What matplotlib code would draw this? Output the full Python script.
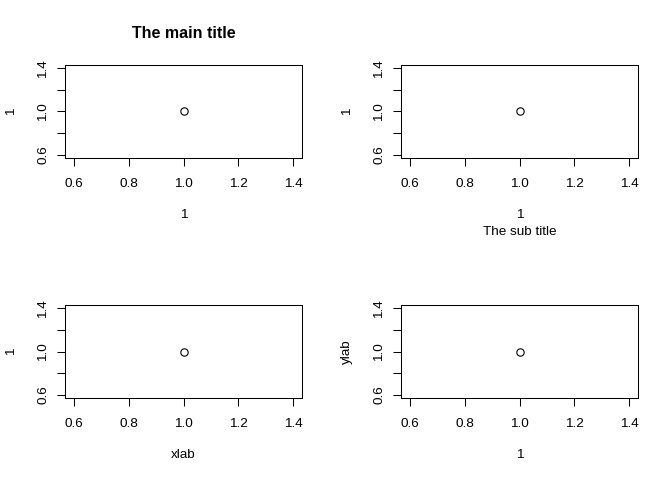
import matplotlib
matplotlib.use('Agg')
import matplotlib.pyplot as plt

plt.rcParams['font.family'] = ['Liberation Sans', 'DejaVu Sans']

# data: one point per panel, as in plot(1, 1, ...)
x_vals = [1]
y_vals = [1]
tick_vals = [0.6, 0.8, 1.0, 1.2, 1.4]
x_tick_labels = ['0.6', '0.8', '1.0', '1.2', '1.4']
y_tick_labels = ['0.6', '', '1.0', '', '1.4']  # R drops the crowded ones
main_titles = ['The main title', '', '', '']
sub_titles = ['', 'The sub title', '', '']
x_labels = ['1', '1', 'xlab', '1']
y_labels = ['1', '1', '1', 'ylab']

W, H = 672, 480
fig = plt.figure(figsize=(W / 100, H / 100), dpi=100)

FS = 9.7        # ~13 px
FS_MAIN = 11.5  # bold title
lefts = [65, 401]
tops = [65, 305]
pw, ph = 237, 93

for i in range(4):
    r, c = divmod(i, 2)
    l, t = lefts[c], tops[r]
    ax = fig.add_axes([l / W, 1 - (t + ph) / H, pw / W, ph / H])
    ax.plot(x_vals, y_vals, 'o', mfc='white', mec='black', ms=5.3, mew=0.8)
    ax.set_xlim(0.568, 1.432)
    ax.set_ylim(0.568, 1.432)
    ax.set_xticks(tick_vals)
    ax.set_xticklabels(x_tick_labels)
    ax.set_yticks(tick_vals)
    ax.set_yticklabels(y_tick_labels, rotation=90, va='center')
    ax.tick_params(direction='out', length=5.5, width=0.75, labelsize=FS)
    ax.tick_params(axis='x', pad=9)
    ax.tick_params(axis='y', pad=6)
    for s in ax.spines.values():
        s.set_linewidth(0.75)

    # outer labels, placed in pixels from the box edges like R's mtext lines
    ax.annotate(x_labels[i], (0.5, 0), xycoords='axes fraction',
                xytext=(0, -57), textcoords='offset pixels',
                ha='center', va='center', fontsize=FS)
    ax.annotate(y_labels[i], (0, 0.5), xycoords='axes fraction',
                xytext=(-54, 0), textcoords='offset pixels',
                ha='center', va='center', rotation=90, fontsize=FS)
    if sub_titles[i]:
        ax.annotate(sub_titles[i], (0.5, 0), xycoords='axes fraction',
                    xytext=(0, -74), textcoords='offset pixels',
                    ha='center', va='center', fontsize=FS)
    if main_titles[i]:
        ax.annotate(main_titles[i], (0.5, 1), xycoords='axes fraction',
                    xytext=(0, 32), textcoords='offset pixels',
                    ha='center', va='center', fontsize=FS_MAIN, fontweight='bold')

fig.savefig('out.png', dpi=100)
